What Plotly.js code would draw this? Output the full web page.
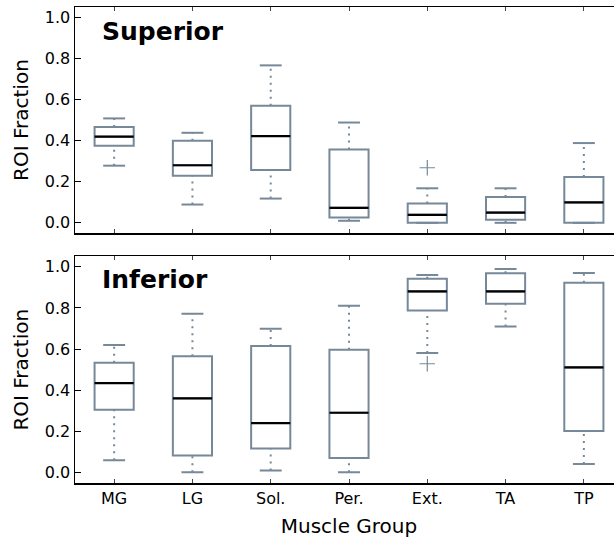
<!DOCTYPE html>
<html>
<head>
<meta charset="utf-8">
<script src="https://cdn.plot.ly/plotly-3.0.1.min.js"></script>
<style>
  html, body { margin: 0; padding: 0; background: #fff; overflow: hidden; }
  #chart { width: 624px; height: 541px; }
</style>
</head>
<body>
<div id="chart"></div>
<script>
// Muscle groups along the x axis
const muscles = ["MG", "LG", "Sol.", "Per.", "Ext.", "TA", "TP"];

// Superior ROI fraction: whisker ends, quartiles, median, outliers
const supLower  = [0.278, 0.089, 0.118, 0.010, 0.000, 0.000, 0.000];
const supQ1     = [0.375, 0.229, 0.257, 0.026, 0.000, 0.015, 0.000];
const supMedian = [0.419, 0.280, 0.422, 0.073, 0.039, 0.050, 0.099];
const supQ3     = [0.466, 0.399, 0.569, 0.357, 0.094, 0.126, 0.223];
const supUpper  = [0.508, 0.438, 0.766, 0.488, 0.168, 0.168, 0.388];
const supOutX   = ["Ext."];
const supOutY   = [0.268];

// Inferior ROI fraction
const infLower  = [0.061, 0.002, 0.011, 0.002, 0.581, 0.710, 0.042];
const infQ1     = [0.306, 0.084, 0.118, 0.071, 0.788, 0.820, 0.202];
const infMedian = [0.435, 0.361, 0.241, 0.291, 0.880, 0.880, 0.511];
const infQ3     = [0.534, 0.565, 0.615, 0.597, 0.942, 0.968, 0.922];
const infUpper  = [0.620, 0.772, 0.699, 0.811, 0.960, 0.989, 0.969];
const infOutX   = ["Ext."];
const infOutY   = [0.529];

const yTicks = [0.0, 0.2, 0.4, 0.6, 0.8, 1.0];

const BOX = "#778899";
const FONT = "DejaVu Sans";
const pos = muscles.map((_, i) => i + 1);
const boxHalf = 0.25;
const capHalf = 0.14;

function panelTraces(lower, q1, med, q3, upper, outX, outY, xa, ya) {
  const traces = [];
  // boxes (whiskers drawn separately as dotted lines)
  traces.push({
    type: "box", x: pos, q1: q1, median: med, q3: q3,
    lowerfence: q1, upperfence: q3,
    width: 2 * boxHalf, whiskerwidth: 0, boxpoints: false,
    line: { color: BOX, width: 2 }, fillcolor: "rgba(255,255,255,0)",
    xaxis: xa, yaxis: ya, hoverinfo: "skip", showlegend: false
  });
  const wx = [], wy = [], cx = [], cy = [], mx = [], my = [];
  pos.forEach((p, i) => {
    wx.push(p, p, null, p, p, null);
    wy.push(q3[i], upper[i], null, lower[i], q1[i], null);
    cx.push(p - capHalf, p + capHalf, null, p - capHalf, p + capHalf, null);
    cy.push(upper[i], upper[i], null, lower[i], lower[i], null);
    mx.push(p - boxHalf, p + boxHalf, null);
    my.push(med[i], med[i], null);
  });
  traces.push({
    type: "scatter", mode: "lines", x: wx, y: wy,
    line: { color: BOX, width: 2, dash: "2px,5px" },
    xaxis: xa, yaxis: ya, hoverinfo: "skip", showlegend: false
  });
  traces.push({
    type: "scatter", mode: "lines", x: cx, y: cy,
    line: { color: BOX, width: 2 },
    xaxis: xa, yaxis: ya, hoverinfo: "skip", showlegend: false
  });
  traces.push({
    type: "scatter", mode: "lines", x: mx, y: my,
    line: { color: "#000000", width: 2.2 },
    xaxis: xa, yaxis: ya, hoverinfo: "skip", showlegend: false
  });
  traces.push({
    type: "scatter", mode: "markers",
    x: outX.map(m => muscles.indexOf(m) + 1), y: outY,
    marker: { symbol: "cross-thin", size: 11, line: { color: BOX, width: 1.2 } },
    xaxis: xa, yaxis: ya, hoverinfo: "skip", showlegend: false
  });
  return traces;
}

const data = [].concat(
  panelTraces(supLower, supQ1, supMedian, supQ3, supUpper, supOutX, supOutY, "x", "y"),
  panelTraces(infLower, infQ1, infMedian, infQ3, infUpper, infOutX, infOutY, "x2", "y2")
);

const xBase = {
  range: [0.5, 7.5], tickvals: pos, ticktext: muscles,
  ticks: "inside", ticklen: 4, tickwidth: 1, tickcolor: "#444",
  showline: true, linecolor: "#000", linewidth: 1.5, mirror: "ticks",
  showgrid: false, zeroline: false,
  tickfont: { family: FONT, size: 16, color: "#000" }
};
const yBase = {
  range: [-0.05, 1.05], tickvals: yTicks, tickformat: ".1f",
  ticks: "inside", ticklen: 6, tickwidth: 1, tickcolor: "#000",
  showline: true, linecolor: "#000", linewidth: 1.5, mirror: "ticks",
  showgrid: false, zeroline: false,
  tickfont: { family: FONT, size: 16, color: "#000" },
  title: { text: "ROI Fraction", font: { family: FONT, size: 20, color: "#000" }, standoff: 11 }
};

const layout = {
  width: 624, height: 541,
  margin: { l: 75, r: 1, t: 7, b: 58 },
  paper_bgcolor: "#fff", plot_bgcolor: "#fff",
  showlegend: false,
  xaxis: Object.assign({}, xBase, { anchor: "y", showticklabels: false, matches: "x2" }),
  yaxis: Object.assign({}, yBase, { domain: [0.525, 1], anchor: "x" }),
  xaxis2: Object.assign({}, xBase, {
    anchor: "y2",
    title: { text: "Muscle Group", font: { family: FONT, size: 20, color: "#000" }, standoff: 12 }
  }),
  yaxis2: Object.assign({}, yBase, { domain: [0, 0.476], anchor: "x2" }),
  annotations: [
    { text: "<b>Superior</b>", xref: "x domain", yref: "y domain", x: 0.046, y: 0.893,
      xanchor: "left", yanchor: "middle", showarrow: false,
      font: { family: FONT, size: 25, color: "#000" } },
    { text: "<b>Inferior</b>", xref: "x2 domain", yref: "y2 domain", x: 0.046, y: 0.898,
      xanchor: "left", yanchor: "middle", showarrow: false,
      font: { family: FONT, size: 25, color: "#000" } }
  ]
};

Plotly.newPlot("chart", data, layout, { displayModeBar: false, staticPlot: true });
</script>
</body>
</html>
